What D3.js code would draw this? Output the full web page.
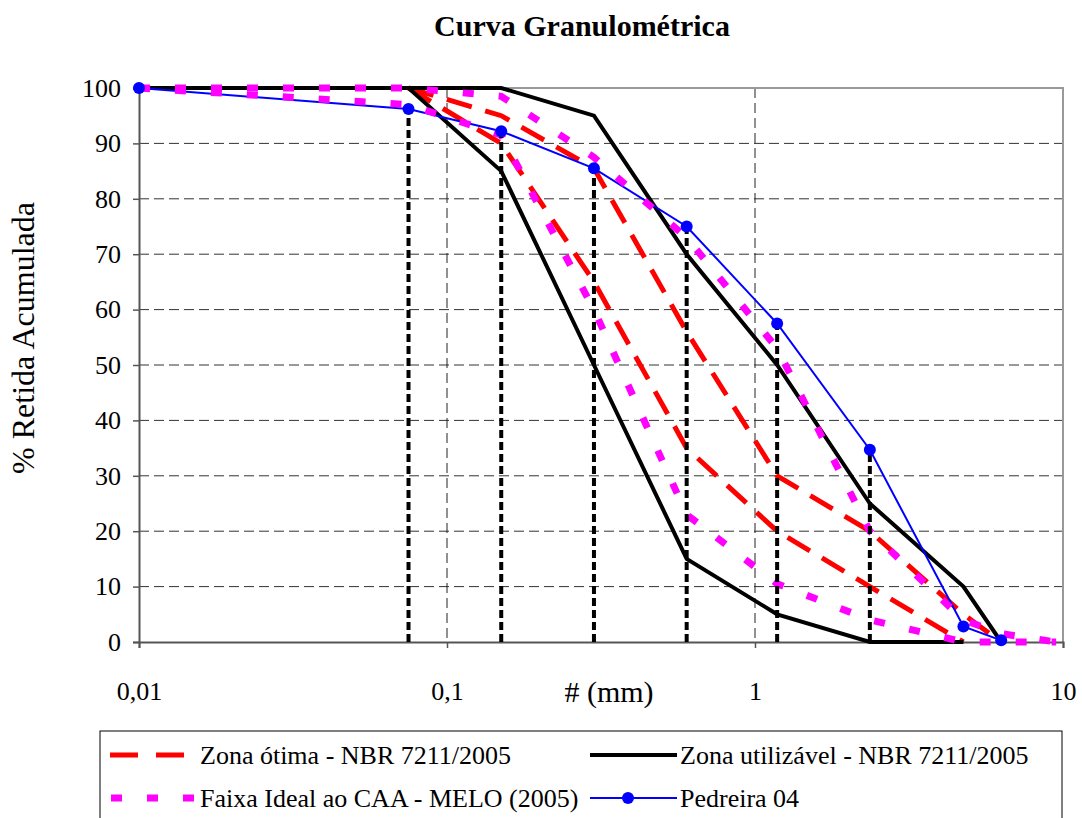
<!DOCTYPE html>
<html>
<head>
<meta charset="utf-8">
<script src="https://cdn.jsdelivr.net/npm/d3@7"></script>
<style>
body { margin: 0; background: #fff; }
svg { display: block; font-family: "Liberation Serif", "Times New Roman", serif; }
svg text { font-family: "Liberation Serif", "Times New Roman", serif; }
</style>
</head>
<body>
<svg id="chart" width="1082" height="818"></svg>
<script>
// peneiras (mm)
var sieves = [0.01, 0.075, 0.15, 0.3, 0.6, 1.18, 2.36, 4.75, 6.3, 9.5];
// NBR 7211 - zona otima
var otimaSupX = [0.075, 0.15, 0.3, 0.6, 1.18, 2.36, 4.75, 6.3];
var otimaSup = [100, 95, 85.5, 56, 30, 20, 5, 0];
var otimaInfX = [0.075, 0.15, 0.3, 0.6, 1.18, 2.36, 4.75];
var otimaInf = [100, 90, 65, 35, 20, 10, 0];
// NBR 7211 - zona utilizavel
var utilSupX = [0.01, 0.075, 0.15, 0.3, 0.6, 1.18, 2.36, 4.75, 6.3];
var utilSup = [100, 100, 100, 95, 70, 50, 25, 10, 0];
var utilInfX = [0.01, 0.075, 0.15, 0.3, 0.6, 1.18, 2.36, 4.75];
var utilInf = [100, 100, 85, 50, 15, 5, 0, 0];
// MELO (2005)
var meloSup = [100, 100, 98.5, 87.5, 73, 53, 20, 4, 1.5, 0];
var meloInf = [100, 97, 91.5, 60, 23, 10.5, 4, 0, 0, 0];
// Pedreira 04
var pedreiraX = [0.01, 0.075, 0.15, 0.3, 0.6, 1.18, 2.36, 4.75, 6.3];
var pedreira = [100, 96.2, 92.2, 85.5, 75, 57.5, 34.7, 2.8, 0.3];
var dropX = [0.075, 0.15, 0.3, 0.6, 1.18, 2.36];

var xTicks = [0.01, 0.1, 1, 10];
var xTickLabels = ["0,01", "0,1", "1", "10"];
var yTicks = [0, 10, 20, 30, 40, 50, 60, 70, 80, 90, 100];

var pLeft = 139, pRight = 1063, pTop = 88, pBottom = 642;
var svg = d3.select("#chart");

var x = d3.scaleLog().domain([0.01, 10]).range([pLeft, pRight]);
var y = d3.scaleLinear().domain([0, 100]).range([pBottom, pTop]);

function pairs(xs, ys) {
    return xs.map(function (v, i) { return [v, ys[i]]; });
}
var line = d3.line()
    .x(function (d) { return x(d[0]); })
    .y(function (d) { return y(d[1]); });

// title
svg.append("text")
    .attr("x", 582).attr("y", 36)
    .attr("text-anchor", "middle")
    .attr("font-size", 30).attr("font-weight", "bold")
    .text("Curva Granulométrica");

// grid
svg.append("g").selectAll("line")
    .data(yTicks.slice(1, -1))
    .enter().append("line")
        .attr("x1", pLeft).attr("x2", pRight)
        .attr("y1", function (d) { return y(d); })
        .attr("y2", function (d) { return y(d); })
        .attr("stroke", "#333").attr("stroke-width", 1)
        .attr("stroke-dasharray", "10,5");
svg.append("g").selectAll("line")
    .data([0.1, 1])
    .enter().append("line")
        .attr("x1", function (d) { return x(d); })
        .attr("x2", function (d) { return x(d); })
        .attr("y1", pTop).attr("y2", pBottom)
        .attr("stroke", "#222").attr("stroke-width", 1)
        .attr("stroke-dasharray", "10,5");

// plot frame top/right
svg.append("path")
    .attr("d", "M" + pLeft + "," + pTop + "H" + pRight + "V" + pBottom)
    .attr("fill", "none").attr("stroke", "#999").attr("stroke-width", 2);

// axes
var yAxis = d3.axisLeft(y).tickValues(yTicks).tickSize(6).tickPadding(12);
var gy = svg.append("g").attr("transform", "translate(" + pLeft + ",0)").call(yAxis);
var xAxis = d3.axisBottom(x).tickValues(xTicks).tickSize(6)
    .tickFormat(function (d, i) { return xTickLabels[i]; }).tickPadding(34);
var gx = svg.append("g").attr("transform", "translate(0," + pBottom + ")").call(xAxis);
[gy, gx].forEach(function (g) {
    g.attr("font-family", "Liberation Serif").attr("font-size", 26);
    g.select(".domain").attr("stroke", "#555").attr("stroke-width", 2);
    g.selectAll(".tick line").attr("stroke", "#555").attr("stroke-width", 1.5);
    g.selectAll("text").attr("fill", "#000");
});

svg.append("text")
    .attr("x", 609).attr("y", 702)
    .attr("text-anchor", "middle").attr("font-size", 30)
    .text("# (mm)");
svg.append("text")
    .attr("transform", "translate(34,338) rotate(-90)")
    .attr("text-anchor", "middle").attr("font-size", 32)
    .text("% Retida Acumulada");

// zona otima (vermelho tracejado)
[pairs(otimaSupX, otimaSup), pairs(otimaInfX, otimaInf)].forEach(function (d) {
    svg.append("path").datum(d).attr("d", line)
        .attr("fill", "none").attr("stroke", "#ff0000").attr("stroke-width", 5)
        .attr("stroke-dasharray", "26,14");
});
// zona utilizavel (preto)
[pairs(utilSupX, utilSup), pairs(utilInfX, utilInf)].forEach(function (d) {
    svg.append("path").datum(d).attr("d", line)
        .attr("fill", "none").attr("stroke", "#000").attr("stroke-width", 4);
});
// pedreira linha
svg.append("path").datum(pairs(pedreiraX, pedreira)).attr("d", line)
    .attr("fill", "none").attr("stroke", "#0000ff").attr("stroke-width", 2);
// melo (magenta pontilhado)
[pairs(sieves, meloSup), pairs(sieves, meloInf)].forEach(function (d) {
    svg.append("path").datum(d).attr("d", line)
        .attr("fill", "none").attr("stroke", "#ff00ff").attr("stroke-width", 7)
        .attr("stroke-dasharray", "11,25");
});
// linhas verticais ate a curva da pedreira
svg.append("g").selectAll("line")
    .data(dropX)
    .enter().append("line")
        .attr("x1", function (d) { return x(d); })
        .attr("x2", function (d) { return x(d); })
        .attr("y1", y(0))
        .attr("y2", function (d) { return y(pedreira[pedreiraX.indexOf(d)]); })
        .attr("stroke", "#000").attr("stroke-width", 4)
        .attr("stroke-dasharray", "8,4");
// pedreira marcadores
svg.append("g").selectAll("circle")
    .data(pairs(pedreiraX, pedreira))
    .enter().append("circle")
        .attr("cx", function (d) { return x(d[0]); })
        .attr("cy", function (d) { return y(d[1]); })
        .attr("r", 6).attr("fill", "#0000ff");

// legend
var lg = svg.append("g");
lg.append("rect")
    .attr("x", 100).attr("y", 731).attr("width", 962).attr("height", 100)
    .attr("fill", "#fff").attr("stroke", "#000").attr("stroke-width", 1);
var legendItems = [
    {label: "Zona ótima - NBR 7211/2005", color: "#ff0000", w: 5, dash: "28,18", len: 74, x: 110, ty: 755},
    {label: "Zona utilizável - NBR 7211/2005", color: "#000", w: 4, dash: null, len: 87, x: 590, ty: 755},
    {label: "Faixa Ideal ao CAA - MELO (2005)", color: "#ff00ff", w: 7, dash: "11,25", len: 83, x: 111, ty: 798},
    {label: "Pedreira 04", color: "#0000ff", w: 2, dash: null, len: 87, x: 590, ty: 798, marker: true}
];
legendItems.forEach(function (it) {
    lg.append("line")
        .attr("x1", it.x).attr("x2", it.x + it.len)
        .attr("y1", it.ty).attr("y2", it.ty)
        .attr("stroke", it.color).attr("stroke-width", it.w)
        .attr("stroke-dasharray", it.dash);
    if (it.marker) {
        lg.append("circle").attr("cx", it.x + 38).attr("cy", it.ty).attr("r", 6).attr("fill", it.color);
    }
    lg.append("text")
        .attr("x", it.x < 200 ? 200 : 680).attr("y", it.ty + 9)
        .attr("font-size", 26)
        .text(it.label);
});
</script>
</body>
</html>
